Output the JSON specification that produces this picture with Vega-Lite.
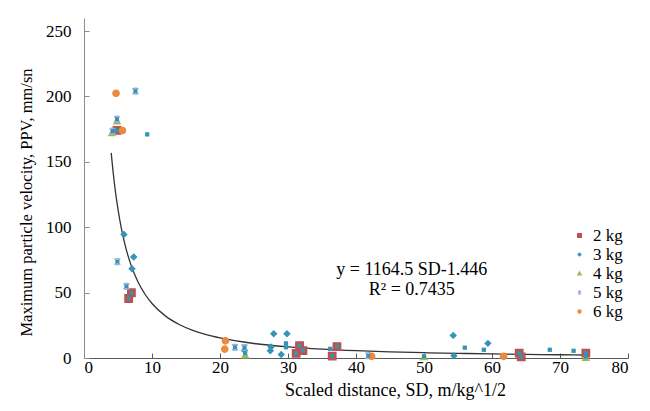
{
  "$schema": "https://vega.github.io/schema/vega-lite/v6.json",
  "width": 544,
  "height": 340,
  "autosize": "none",
  "padding": {"left": 84, "top": 18, "right": 22, "bottom": 53},
  "background": "white",
  "config": {
    "view": {"stroke": null},
    "font": "Liberation Serif",
    "axis": {"grid": false, "labelFont": "Liberation Serif", "titleFont": "Liberation Serif", "labelColor": "#000", "titleColor": "#000", "titleFontWeight": "normal", "labelFontSize": 17, "titleFontSize": 17},
    "legend": {"title": null, "orient": "none", "legendX": 487, "legendY": 209, "labelFont": "Liberation Serif", "labelFontSize": 17, "labelColor": "#000", "symbolSize": 12, "symbolStrokeWidth": 1.5, "rowPadding": 1, "labelOffset": 5}
  },
  "datasets": {
    "points": [
      {"mass": "2 kg", "sd": 4.85, "ppv": 174},
      {"mass": "2 kg", "sd": 6.97, "ppv": 49.9},
      {"mass": "2 kg", "sd": 6.57, "ppv": 45.5},
      {"mass": "2 kg", "sd": 31.7, "ppv": 9.4},
      {"mass": "2 kg", "sd": 31.2, "ppv": 3.6},
      {"mass": "2 kg", "sd": 32.2, "ppv": 5.7},
      {"mass": "2 kg", "sd": 37.2, "ppv": 8.7},
      {"mass": "2 kg", "sd": 36.5, "ppv": 1.5},
      {"mass": "2 kg", "sd": 64.0, "ppv": 3.8},
      {"mass": "2 kg", "sd": 64.3, "ppv": 0.8},
      {"mass": "2 kg", "sd": 73.8, "ppv": 3.8},
      {"mass": "3 kg", "sd": 5.88, "ppv": 94.5},
      {"mass": "3 kg", "sd": 7.31, "ppv": 77.3},
      {"mass": "3 kg", "sd": 7.06, "ppv": 68.2},
      {"mass": "3 kg", "sd": 27.9, "ppv": 18.5},
      {"mass": "3 kg", "sd": 29.85, "ppv": 18.5},
      {"mass": "3 kg", "sd": 27.5, "ppv": 8.5},
      {"mass": "3 kg", "sd": 27.4, "ppv": 5.5},
      {"mass": "3 kg", "sd": 29.0, "ppv": 2.6},
      {"mass": "3 kg", "sd": 23.6, "ppv": 5.7},
      {"mass": "3 kg", "sd": 54.3, "ppv": 17.3},
      {"mass": "3 kg", "sd": 59.4, "ppv": 11.2},
      {"mass": "3 kg", "sd": 54.4, "ppv": 1.8},
      {"mass": "4 kg", "sd": 4.1, "ppv": 172},
      {"mass": "4 kg", "sd": 4.85, "ppv": 181},
      {"mass": "4 kg", "sd": 50.0, "ppv": 0.8},
      {"mass": "4 kg", "sd": 73.8, "ppv": 0.3},
      {"mass": "4 kg", "sd": 23.7, "ppv": 2.2},
      {"mass": "5 kg", "sd": 7.56, "ppv": 204},
      {"mass": "5 kg", "sd": 4.85, "ppv": 182.7},
      {"mass": "5 kg", "sd": 4.2, "ppv": 173.5},
      {"mass": "5 kg", "sd": 4.91, "ppv": 73.7},
      {"mass": "5 kg", "sd": 6.24, "ppv": 54.8},
      {"mass": "5 kg", "sd": 22.2, "ppv": 8.2},
      {"mass": "5 kg", "sd": 23.6, "ppv": 8.0},
      {"mass": "5 kg", "sd": 41.8, "ppv": 1.8},
      {"mass": "6 kg", "sd": 4.71, "ppv": 202.4},
      {"mass": "6 kg", "sd": 5.65, "ppv": 174},
      {"mass": "6 kg", "sd": 20.8, "ppv": 13.1},
      {"mass": "6 kg", "sd": 20.7, "ppv": 6.8},
      {"mass": "6 kg", "sd": 42.3, "ppv": 1.3},
      {"mass": "6 kg", "sd": 61.7, "ppv": 1.3}
    ],
    "extra": [
      {"sd": 9.3, "ppv": 171},
      {"sd": 29.7, "ppv": 11.2},
      {"sd": 29.7, "ppv": 8.2},
      {"sd": 36.2, "ppv": 7.0},
      {"sd": 56.0, "ppv": 7.9},
      {"sd": 58.8, "ppv": 6.3},
      {"sd": 68.5, "ppv": 6.3},
      {"sd": 72.0, "ppv": 5.5},
      {"sd": 23.7, "ppv": 3.8},
      {"sd": 50.0, "ppv": 1.3},
      {"sd": 73.8, "ppv": 1.0}
    ],
    "curve": [
      {"sd": 4.0, "ppv": 156.9},
      {"sd": 4.25, "ppv": 143.7},
      {"sd": 4.5, "ppv": 132.3},
      {"sd": 5, "ppv": 113.6},
      {"sd": 5.5, "ppv": 99.0},
      {"sd": 6, "ppv": 87.3},
      {"sd": 6.5, "ppv": 77.7},
      {"sd": 7, "ppv": 69.84},
      {"sd": 7.5, "ppv": 63.2},
      {"sd": 8, "ppv": 57.57},
      {"sd": 9, "ppv": 48.56},
      {"sd": 10, "ppv": 41.69},
      {"sd": 12, "ppv": 32.03},
      {"sd": 14, "ppv": 25.64},
      {"sd": 16, "ppv": 21.13},
      {"sd": 18, "ppv": 17.82},
      {"sd": 20, "ppv": 15.31},
      {"sd": 25, "ppv": 11.08},
      {"sd": 30, "ppv": 8.52},
      {"sd": 35, "ppv": 6.81},
      {"sd": 40, "ppv": 5.62},
      {"sd": 45, "ppv": 4.74},
      {"sd": 50, "ppv": 4.07},
      {"sd": 55, "ppv": 3.54},
      {"sd": 60, "ppv": 3.13},
      {"sd": 65, "ppv": 2.78},
      {"sd": 70, "ppv": 2.50},
      {"sd": 74, "ppv": 2.31}
    ],
    "equation": [
      {"line": "y = 1164.5 SD-1.446", "sd": 48.2, "ppv": 67.3},
      {"line": "R² = 0.7435", "sd": 48.2, "ppv": 51.8}
    ]
  },
  "layer": [
    {
      "data": {"name": "curve"},
      "mark": {"type": "line", "color": "#333333", "strokeWidth": 1.3, "interpolate": "monotone"},
      "encoding": {
        "x": {"field": "sd", "type": "quantitative", "scale": {"domain": [0, 80]},
          "axis": {"title": "Scaled distance, SD, m/kg^1/2", "values": [0,10,20,30,40,50,60,70,80], "labelFont": "Liberation Serif", "labelFontSize": 17, "titleFontSize": 18, "domainColor": "#595959", "tickColor": "#595959", "tickSize": -5, "labelPadding": 6, "titleX": 311, "titleY": 32, "titleBaseline": "middle"}},
        "y": {"field": "ppv", "type": "quantitative", "scale": {"domain": [0, 250]},
          "axis": {"title": "Maximum particle velocity, PPV, mm/sn", "values": [0,50,100,150,200,250], "labelFont": "Liberation Serif", "labelFontSize": 17, "titleFontSize": 16.5, "domainColor": "#8c8c8c", "tickColor": "#8c8c8c", "tickSize": -5, "labelPadding": 18, "titleX": -58, "titleY": 184, "titleBaseline": "middle", "titleAngle": -90}}
      }
    },
    {
      "data": {"name": "points"},
      "mark": {"type": "point", "filled": false, "strokeWidth": 1.3, "size": 56, "opacity": 1, "fillOpacity": 1},
      "encoding": {
        "x": {"field": "sd", "type": "quantitative"},
        "y": {"field": "ppv", "type": "quantitative"},
        "fill": {"field": "mass", "type": "nominal", "scale": {"domain": ["2 kg","3 kg","4 kg","5 kg","6 kg"], "range": ["#C0504D","#3494B6","#9BBB59","rgba(0,0,0,0)","#EB8A3E"]}},
        "stroke": {"field": "mass", "type": "nominal", "scale": {"domain": ["2 kg","3 kg","4 kg","5 kg","6 kg"], "range": ["#C0504D","#3494B6","#9BBB59","#9AAFDB","#EB8A3E"]}},
        "shape": {"field": "mass", "type": "nominal", "scale": {"domain": ["2 kg","3 kg","4 kg","5 kg","6 kg"], "range": ["M-1,-1L1,-1L1,1L-1,1Z","M-0.75,0L0,-0.75L0.75,0L0,0.75Z","M0,-0.8L0.85,0.7L-0.85,0.7Z","M-0.8,-0.8L0.8,0.8M0.8,-0.8L-0.8,0.8M-0.5,-0.8L0.5,-0.8M-0.5,0.8L0.5,0.8","M0.85,0A0.85,0.85 0 1,1 -0.85,0A0.85,0.85 0 1,1 0.85,0Z"]}}
      }
    },
    {
      "data": {"name": "points"},
      "transform": [{"filter": "datum.mass == '2 kg' || datum.mass == '5 kg'"}],
      "mark": {"type": "square", "color": "#3494B6", "size": 16, "opacity": 1},
      "encoding": {
        "x": {"field": "sd", "type": "quantitative"},
        "y": {"field": "ppv", "type": "quantitative"}
      }
    },
    {
      "data": {"name": "extra"},
      "mark": {"type": "square", "color": "#3494B6", "size": 18, "opacity": 1},
      "encoding": {
        "x": {"field": "sd", "type": "quantitative"},
        "y": {"field": "ppv", "type": "quantitative"}
      }
    },
    {
      "data": {"name": "equation"},
      "mark": {"type": "text", "font": "Liberation Serif", "fontSize": 18, "color": "#000", "align": "center", "baseline": "middle"},
      "encoding": {
        "x": {"field": "sd", "type": "quantitative"},
        "y": {"field": "ppv", "type": "quantitative"},
        "text": {"field": "line"}
      }
    }
  ]
}
